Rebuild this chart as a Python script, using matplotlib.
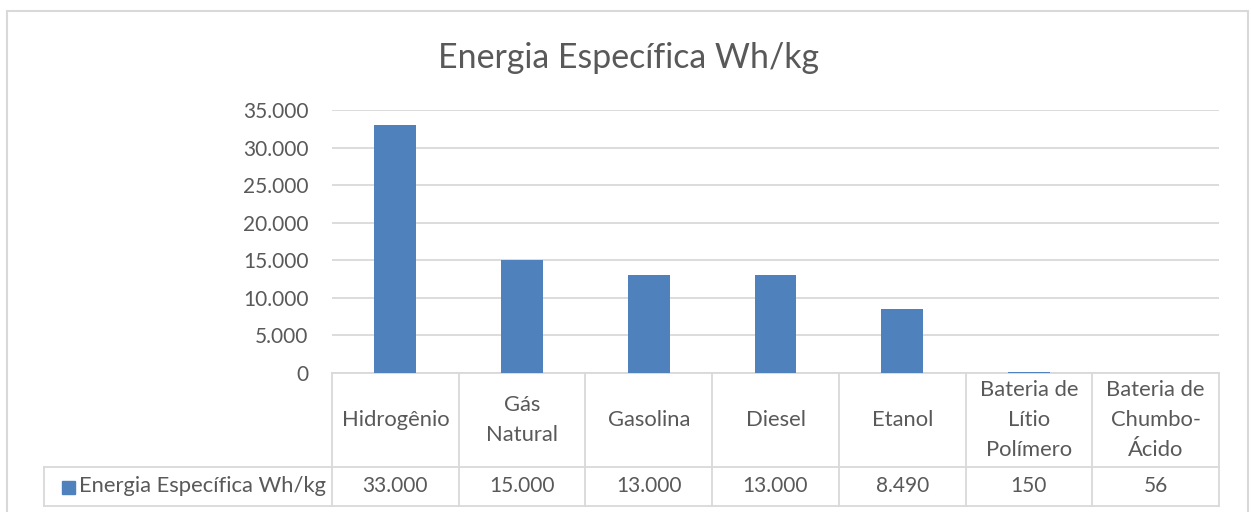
import matplotlib
matplotlib.use("Agg")
import matplotlib.pyplot as plt
from matplotlib.transforms import blended_transform_factory
from matplotlib.ticker import FuncFormatter, MultipleLocator

# Data
categories = ["Hidrogênio", "Gás\nNatural", "Gasolina", "Diesel", "Etanol",
              "Bateria de\nLítio\nPolímero", "Bateria de\nChumbo-\nÁcido"]
values = [33000, 15000, 13000, 13000, 8490, 150, 56]
value_labels = ["33.000", "15.000", "13.000", "13.000", "8.490", "150", "56"]
series_name = "Energia Específica Wh/kg"
title = "Energia Específica Wh/kg"

BAR = "#4F81BD"
GRID = "#D9D9D9"
TXT = "#595959"
FONT = "Lato"
NUM_SIZE = 15
WORD_SIZE = 15.8

W, H = 1251, 512
fig = plt.figure(figsize=(W / 100, H / 100), dpi=100)


def fx(px):
    return px / W


def fy(py):
    return 1 - py / H


# Outer chart border
fig.add_artist(plt.Rectangle((fx(7), fy(530)), fx(1248) - fx(7), fy(11) - fy(530),
                             transform=fig.transFigure, fill=False,
                             edgecolor=GRID, lw=1.5))

ax = fig.add_axes([fx(332), fy(373), fx(1219) - fx(332), fy(110) - fy(373)])
ax.bar(range(len(values)), values, width=0.33, color=BAR, zorder=3)
ax.set_xlim(-0.5, len(values) - 0.5)
ax.set_ylim(0, 35000)
ax.yaxis.set_major_locator(MultipleLocator(5000))
ax.yaxis.set_major_formatter(FuncFormatter(lambda v, p: f"{int(v):,}".replace(",", ".")))
ax.grid(axis="y", color=GRID, lw=1.3, zorder=0)
ax.set_xticks([])
ax.tick_params(axis="y", length=0, pad=17, labelsize=NUM_SIZE, labelcolor=TXT)
for lab in ax.get_yticklabels():
    lab.set_fontfamily(FONT)
for s in ["top", "right", "left"]:
    ax.spines[s].set_visible(False)
ax.spines["bottom"].set_color(GRID)
ax.spines["bottom"].set_linewidth(1.3)

fig.text(fx(629), fy(58), title, ha="center", va="center",
         fontsize=24.4, color=TXT, family=FONT)

# Data table under the axis
tf = blended_transform_factory(ax.transData, fig.transFigure)
y_top, y_mid, y_bot = fy(373), fy(467), fy(506)
n = len(values)
line_kw = dict(color=GRID, lw=1.3, clip_on=False)
for i in range(n + 1):
    ax.plot([i - 0.5, i - 0.5], [y_top, y_bot], transform=tf, **line_kw)
fig.add_artist(plt.Line2D([fx(44), fx(1219)], [y_mid, y_mid], color=GRID, lw=1.3))
fig.add_artist(plt.Line2D([fx(44), fx(1219)], [y_bot, y_bot], color=GRID, lw=1.3))
fig.add_artist(plt.Line2D([fx(44), fx(44)], [y_mid, y_bot], color=GRID, lw=1.3))

for i, (cat, lab) in enumerate(zip(categories, value_labels)):
    ax.text(i, (y_top + y_mid) / 2, cat, transform=tf, ha="center", va="center",
            fontsize=WORD_SIZE, color=TXT, family=FONT, linespacing=1.62)
    ax.text(i, (y_mid + y_bot) / 2, lab, transform=tf, ha="center", va="center",
            fontsize=NUM_SIZE, color=TXT, family=FONT)

# Legend key in the table row
fig.add_artist(plt.Rectangle((fx(62), fy(494)), fx(75) - fx(62), fy(481) - fy(494),
                             transform=fig.transFigure, color=BAR))
fig.text(fx(79), (y_mid + y_bot) / 2, series_name, ha="left", va="center",
         fontsize=WORD_SIZE, color=TXT, family=FONT)

fig.savefig("out.png", dpi=100, facecolor="white")
